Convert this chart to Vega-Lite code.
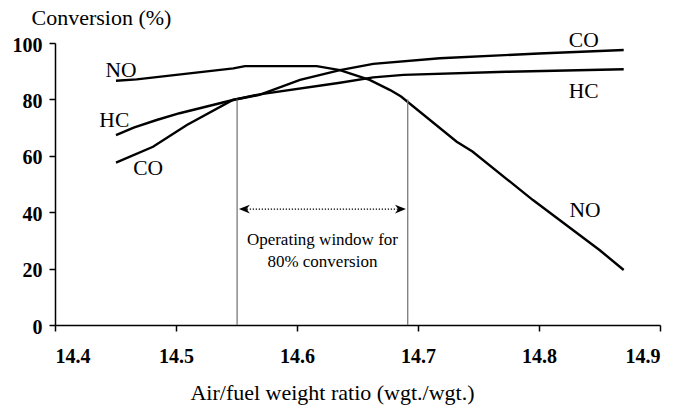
{
  "$schema": "https://vega.github.io/schema/vega-lite/v6.json",
  "width": 605,
  "height": 282,
  "autosize": {"type": "none"},
  "padding": {"left": 55, "top": 43, "right": 20, "bottom": 87},
  "background": "white",
  "config": {
    "view": {"stroke": null},
    "font": "Liberation Serif",
    "axis": {
      "grid": false,
      "domainColor": "black",
      "domainWidth": 1.5,
      "tickColor": "black",
      "tickWidth": 1.5,
      "tickSize": 6,
      "labelFont": "Liberation Serif",
      "labelFontWeight": "bold",
      "labelFontSize": 20,
      "labelColor": "black",
      "titleFont": "Liberation Serif",
      "titleFontWeight": "normal",
      "titleFontSize": 22,
      "titleColor": "black"
    }
  },
  "datasets": {
    "curves": [
      {"gas": "NO", "ratio": 14.4504, "conv": 86.6},
      {"gas": "NO", "ratio": 14.4675, "conv": 87.1},
      {"gas": "NO", "ratio": 14.5474, "conv": 91.0},
      {"gas": "NO", "ratio": 14.557, "conv": 91.8},
      {"gas": "NO", "ratio": 14.6163, "conv": 91.8},
      {"gas": "NO", "ratio": 14.6355, "conv": 90.4},
      {"gas": "NO", "ratio": 14.66, "conv": 86.9},
      {"gas": "NO", "ratio": 14.677, "conv": 83.3},
      {"gas": "NO", "ratio": 14.686, "conv": 81.0},
      {"gas": "NO", "ratio": 14.732, "conv": 65.0},
      {"gas": "NO", "ratio": 14.745, "conv": 61.5},
      {"gas": "NO", "ratio": 14.795, "conv": 44.3},
      {"gas": "NO", "ratio": 14.85, "conv": 26.6},
      {"gas": "NO", "ratio": 14.87, "conv": 19.5},
      {"gas": "HC", "ratio": 14.4504, "conv": 67.3},
      {"gas": "HC", "ratio": 14.465, "conv": 70.0},
      {"gas": "HC", "ratio": 14.484, "conv": 72.7},
      {"gas": "HC", "ratio": 14.503, "conv": 75.1},
      {"gas": "HC", "ratio": 14.547, "conv": 79.8},
      {"gas": "HC", "ratio": 14.569, "conv": 81.8},
      {"gas": "HC", "ratio": 14.6355, "conv": 85.9},
      {"gas": "HC", "ratio": 14.663, "conv": 87.8},
      {"gas": "HC", "ratio": 14.688, "conv": 88.7},
      {"gas": "HC", "ratio": 14.773, "conv": 89.8},
      {"gas": "HC", "ratio": 14.87, "conv": 90.7},
      {"gas": "CO", "ratio": 14.4504, "conv": 57.6},
      {"gas": "CO", "ratio": 14.481, "conv": 63.2},
      {"gas": "CO", "ratio": 14.509, "conv": 70.9},
      {"gas": "CO", "ratio": 14.547, "conv": 79.8},
      {"gas": "CO", "ratio": 14.569, "conv": 81.6},
      {"gas": "CO", "ratio": 14.6025, "conv": 86.9},
      {"gas": "CO", "ratio": 14.6355, "conv": 90.4},
      {"gas": "CO", "ratio": 14.663, "conv": 92.6},
      {"gas": "CO", "ratio": 14.718, "conv": 94.6},
      {"gas": "CO", "ratio": 14.8, "conv": 96.3},
      {"gas": "CO", "ratio": 14.87, "conv": 97.5}
    ],
    "labels": [
      {"label": "NO", "ratio": 14.4545, "conv": 87.9},
      {"label": "HC", "ratio": 14.449, "conv": 70.2},
      {"label": "CO", "ratio": 14.477, "conv": 53.2},
      {"label": "CO", "ratio": 14.837, "conv": 98.6},
      {"label": "HC", "ratio": 14.837, "conv": 80.5},
      {"label": "NO", "ratio": 14.838, "conv": 38.3}
    ],
    "window": [
      {"ratio": 14.5505, "bottom": 0, "top": 80},
      {"ratio": 14.6915, "bottom": 0, "top": 80}
    ],
    "arrow": [
      {"x1": 14.556, "x2": 14.686, "conv": 41.1}
    ],
    "headsL": [
      {"ratio": 14.5565, "conv": 41.1}
    ],
    "headsR": [
      {"ratio": 14.6855, "conv": 41.1}
    ],
    "note": [
      {"ratio": 14.621, "conv": 28.4, "text": "Operating window for"},
      {"ratio": 14.621, "conv": 20.6, "text": "80% conversion"}
    ]
  },
  "layer": [
    {
      "data": {"name": "curves"},
      "mark": {"type": "line", "color": "black", "strokeWidth": 2.4},
      "encoding": {
        "x": {
          "field": "ratio",
          "type": "quantitative",
          "scale": {"domain": [14.4, 14.9], "nice": false, "zero": false},
          "axis": {
            "values": [14.4, 14.5, 14.6, 14.7, 14.8, 14.9],
            "format": ".1f",
            "labelPadding": 15,
            "title": "Air/fuel weight ratio (wgt./wgt.)",
            "titleX": 277,
            "titleY": 74,
            "titleBaseline": "alphabetic",
            "titleAlign": "center"
          }
        },
        "y": {
          "field": "conv",
          "type": "quantitative",
          "scale": {"domain": [0, 100], "nice": false},
          "axis": {
            "values": [0, 20, 40, 60, 80, 100],
            "labelPadding": 7,
            "labelOffset": 2,
            "title": "Conversion (%)",
            "titleAngle": 0,
            "titleAlign": "left",
            "titleBaseline": "alphabetic",
            "titleX": -24,
            "titleY": -19
          }
        },
        "detail": {"field": "gas", "type": "nominal"}
      }
    },
    {
      "data": {"name": "window"},
      "mark": {"type": "rule", "color": "#7a7a7a", "strokeWidth": 1.3},
      "encoding": {
        "x": {"field": "ratio", "type": "quantitative"},
        "y": {"field": "bottom", "type": "quantitative"},
        "y2": {"field": "top"}
      }
    },
    {
      "data": {"name": "arrow"},
      "mark": {"type": "rule", "color": "black", "strokeWidth": 1.3, "strokeDash": [1.3, 1.7]},
      "encoding": {
        "x": {"field": "x1", "type": "quantitative"},
        "x2": {"field": "x2"},
        "y": {"field": "conv", "type": "quantitative"}
      }
    },
    {
      "data": {"name": "headsL"},
      "mark": {"type": "point", "filled": true, "color": "black", "opacity": 1, "size": 120,
               "shape": "M-1,0 L1,-0.8 L0.4,0 L1,0.8 Z"},
      "encoding": {
        "x": {"field": "ratio", "type": "quantitative"},
        "y": {"field": "conv", "type": "quantitative"}
      }
    },
    {
      "data": {"name": "headsR"},
      "mark": {"type": "point", "filled": true, "color": "black", "opacity": 1, "size": 120,
               "shape": "M1,0 L-1,-0.8 L-0.4,0 L-1,0.8 Z"},
      "encoding": {
        "x": {"field": "ratio", "type": "quantitative"},
        "y": {"field": "conv", "type": "quantitative"}
      }
    },
    {
      "data": {"name": "labels"},
      "mark": {"type": "text", "font": "Liberation Serif", "fontSize": 21.5, "color": "black",
               "align": "center", "baseline": "alphabetic"},
      "encoding": {
        "x": {"field": "ratio", "type": "quantitative"},
        "y": {"field": "conv", "type": "quantitative"},
        "text": {"field": "label", "type": "nominal"}
      }
    },
    {
      "data": {"name": "note"},
      "mark": {"type": "text", "font": "Liberation Serif", "fontSize": 17, "color": "black",
               "align": "center", "baseline": "alphabetic"},
      "encoding": {
        "x": {"field": "ratio", "type": "quantitative"},
        "y": {"field": "conv", "type": "quantitative"},
        "text": {"field": "text", "type": "nominal"}
      }
    }
  ]
}
